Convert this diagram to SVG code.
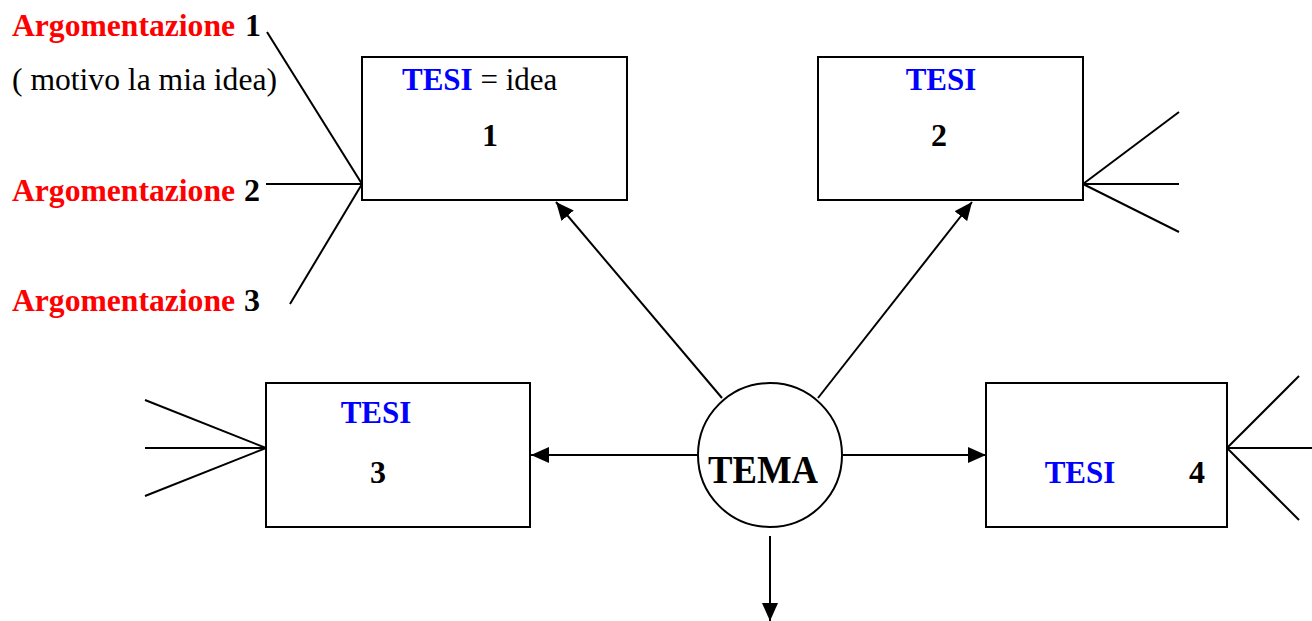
<svg xmlns="http://www.w3.org/2000/svg" width="1312" height="621" viewBox="0 0 1312 621">
<defs>
<marker id="arr" markerUnits="userSpaceOnUse" markerWidth="18" markerHeight="16" viewBox="0 0 18 16" refX="18" refY="8" orient="auto">
<path d="M0,0 L18,8 L0,16 Z" fill="#000"/>
</marker>
</defs>
<style>
text{font-family:"Liberation Serif","Times New Roman",serif;}
.b{font-weight:bold;}
.red{fill:#ff0000;}
.blue{fill:#0000ff;}
.blk{fill:#000;}
.box{fill:#fff;stroke:#000;stroke-width:2;}
.ln{stroke:#000;stroke-width:2;fill:none;}
.ar{stroke:#000;stroke-width:2;fill:none;marker-end:url(#arr);}
</style>
<rect width="1312" height="621" fill="#fff"/>

<g id="labels">
<text x="12" y="36" font-size="32" class="b"><tspan class="red" textLength="223" lengthAdjust="spacingAndGlyphs">Argomentazione</tspan><tspan class="blk" x="245">1</tspan></text>
<text x="12" y="90" font-size="31" class="blk" textLength="265" lengthAdjust="spacingAndGlyphs">( motivo la mia idea)</text>
<text x="12" y="201" font-size="32" class="b"><tspan class="red" textLength="223" lengthAdjust="spacingAndGlyphs">Argomentazione</tspan><tspan class="blk" x="244">2</tspan></text>
<text x="12" y="311" font-size="32" class="b"><tspan class="red" textLength="223" lengthAdjust="spacingAndGlyphs">Argomentazione</tspan><tspan class="blk" x="244">3</tspan></text>
</g>

<g id="connectors">
<line class="ln" x1="267" y1="32" x2="362" y2="184"/>
<line class="ln" x1="266" y1="184" x2="362" y2="184"/>
<line class="ln" x1="290" y1="304" x2="362" y2="184"/>
<line class="ln" x1="1179" y1="112" x2="1083" y2="184"/>
<line class="ln" x1="1179" y1="184" x2="1083" y2="184"/>
<line class="ln" x1="1179" y1="232" x2="1083" y2="184"/>
<line class="ln" x1="145" y1="400" x2="266" y2="448"/>
<line class="ln" x1="145" y1="448" x2="266" y2="448"/>
<line class="ln" x1="145" y1="496" x2="266" y2="448"/>
<line class="ln" x1="1299" y1="376" x2="1227" y2="448"/>
<line class="ln" x1="1312" y1="448" x2="1227" y2="448"/>
<line class="ln" x1="1299" y1="520" x2="1227" y2="448"/>
<line class="ar" x1="722" y1="398" x2="556" y2="202"/>
<line class="ar" x1="818" y1="398" x2="972" y2="202"/>
<line class="ar" x1="698" y1="455" x2="531" y2="455"/>
<line class="ar" x1="843" y1="455" x2="986" y2="455"/>
<line class="ar" x1="770" y1="536" x2="770" y2="621"/>
</g>

<g id="tesi1">
<rect class="box" x="362" y="57" width="265" height="143"/>
<text x="402" y="90" font-size="31"><tspan class="b blue">TESI</tspan><tspan class="blk"> = idea</tspan></text>
<text x="490" y="146" font-size="32" class="b blk" text-anchor="middle">1</text>
</g>

<g id="tesi2">
<rect class="box" x="818" y="57" width="265" height="143"/>
<text x="941" y="90" font-size="31" class="b blue" text-anchor="middle">TESI</text>
<text x="939" y="146" font-size="32" class="b blk" text-anchor="middle">2</text>
</g>

<g id="tesi3">
<rect class="box" x="266" y="383" width="264" height="144"/>
<text x="376" y="423" font-size="31" class="b blue" text-anchor="middle">TESI</text>
<text x="378" y="483" font-size="32" class="b blk" text-anchor="middle">3</text>
</g>

<g id="tesi4">
<rect class="box" x="986" y="383" width="241" height="144"/>
<text x="1080" y="483" font-size="31" class="b blue" text-anchor="middle">TESI</text>
<text x="1197" y="483" font-size="32" class="b blk" text-anchor="middle">4</text>
</g>

<g id="tema">
<circle cx="770" cy="455" r="72" fill="#fff" stroke="#000" stroke-width="2"/>
<text x="763" y="483" font-size="40" class="b blk" text-anchor="middle" textLength="110" lengthAdjust="spacingAndGlyphs">TEMA</text>
</g>
</svg>
